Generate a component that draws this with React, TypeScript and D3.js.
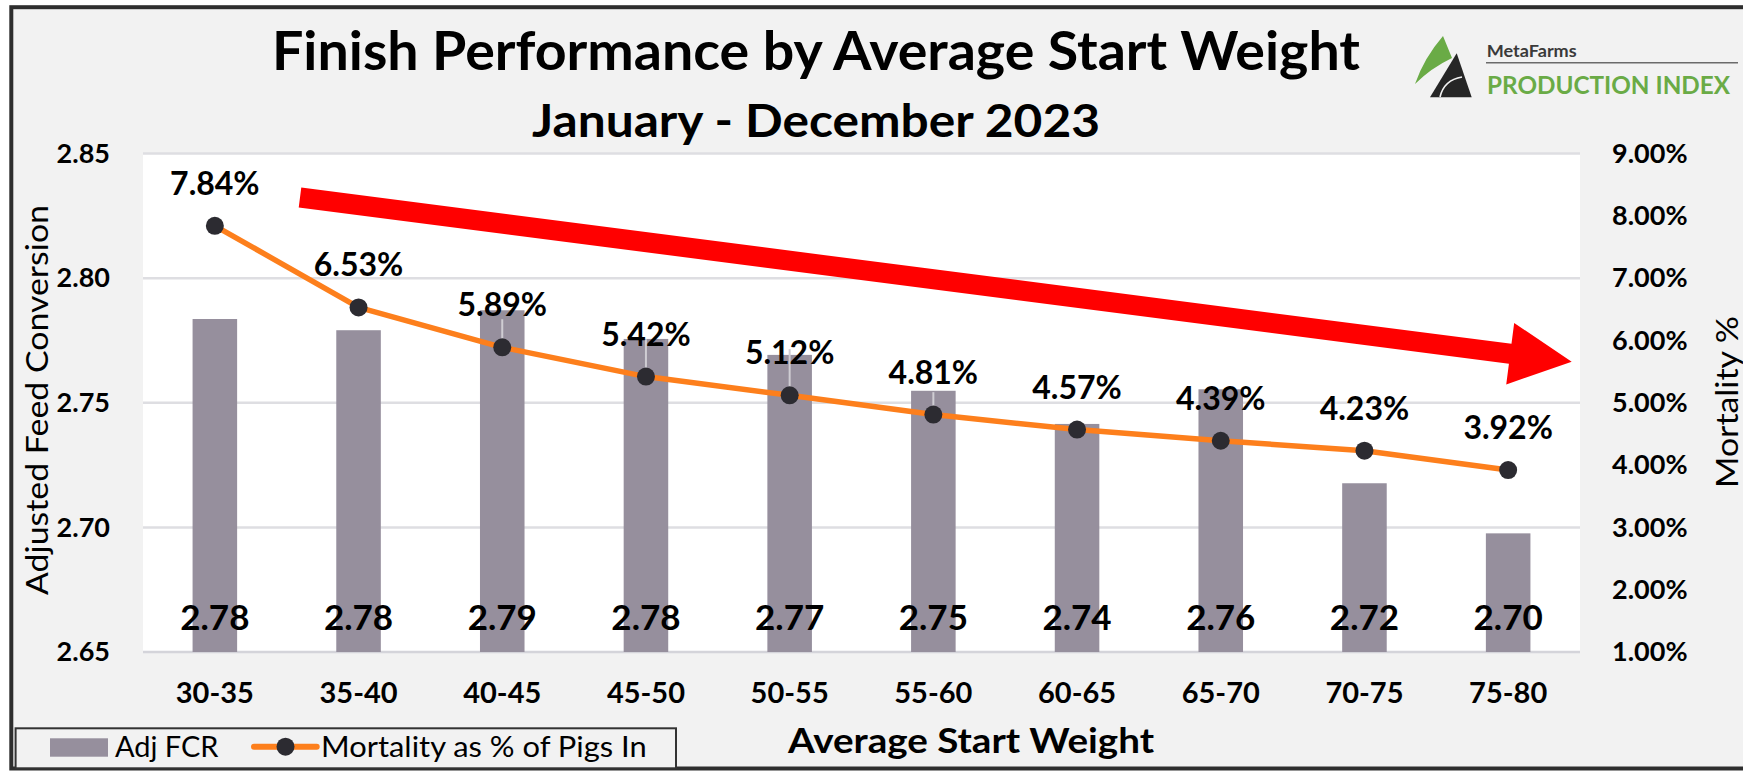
import React, { useEffect, useRef } from 'react';
import * as d3 from 'd3';

// chart data
const weightBins = ['30-35', '35-40', '40-45', '45-50', '50-55', '55-60', '60-65', '65-70', '70-75', '75-80'];
const adjFcr = [2.7836, 2.7791, 2.7871, 2.7756, 2.7692, 2.7548, 2.7415, 2.7554, 2.7177, 2.6976];
const mortalityPct = [7.84, 6.53, 5.89, 5.42, 5.12, 4.81, 4.57, 4.39, 4.23, 3.92];
// thin light whiskers showing above a few points
const mortalityHigh: (number | null)[] = [null, null, 6.34, 6.02, 5.86, 5.17, null, null, null, null];
const fcrTicks = [2.65, 2.7, 2.75, 2.8, 2.85];
const mortalityTicks = [1, 2, 3, 4, 5, 6, 7, 8, 9];

const FONT = "Lato, 'Open Sans', sans-serif";
const BAR_COLOR = '#968f9d';
const LINE_COLOR = '#fd7f1c';
const DOT_COLOR = '#2c2b31';

const App: React.FC = () => {
  const svgRef = useRef<SVGSVGElement>(null);

  useEffect(() => {
    if (!svgRef.current) return;

    const width = 1743;
    const height = 771;
    const plot = { left: 143, right: 1580, top: 153.5, bottom: 652 };

    const svg = d3.select(svgRef.current).attr('width', width).attr('height', height);
    svg.selectAll('*').remove();

    // page + frame
    svg.append('rect').attr('width', width).attr('height', height).attr('fill', '#ffffff');
    svg
      .append('rect')
      .attr('x', 11.3)
      .attr('y', 7.2)
      .attr('width', 1800)
      .attr('height', 761.3)
      .attr('fill', '#f2f2f2')
      .attr('stroke', '#2e2e2e')
      .attr('stroke-width', 4);

    // plot area
    svg
      .append('rect')
      .attr('x', plot.left)
      .attr('y', plot.top)
      .attr('width', plot.right - plot.left)
      .attr('height', plot.bottom - plot.top)
      .attr('fill', '#ffffff');

    const x = d3
      .scaleBand()
      .domain(weightBins)
      .range([plot.left, plot.right])
      .paddingInner(0.69)
      .paddingOuter(0.345);

    const yL = d3.scaleLinear().domain([2.65, 2.85]).range([plot.bottom, plot.top]);
    const yR = d3.scaleLinear().domain([1, 9]).range([plot.bottom, plot.top]);

    // gridlines
    svg
      .selectAll('.grid-line')
      .data(fcrTicks)
      .enter()
      .append('line')
      .attr('class', 'grid-line')
      .attr('x1', plot.left)
      .attr('x2', plot.right)
      .attr('y1', (d) => yL(d))
      .attr('y2', (d) => yL(d))
      .attr('stroke', (d) => (d === 2.65 ? '#d4d4da' : '#dedee2'))
      .attr('stroke-width', 2.5);

    // bars
    const fcrData = weightBins.map((bin, i) => ({ bin, value: adjFcr[i] }));
    svg
      .selectAll('.bar')
      .data(fcrData)
      .enter()
      .append('rect')
      .attr('class', 'bar')
      .attr('x', (d) => x(d.bin) ?? 0)
      .attr('y', (d) => yL(d.value))
      .attr('width', x.bandwidth())
      .attr('height', (d) => plot.bottom - yL(d.value))
      .attr('fill', BAR_COLOR);

    // bar value labels near the base
    svg
      .selectAll('.bar-label')
      .data(fcrData)
      .enter()
      .append('text')
      .attr('class', 'bar-label')
      .attr('x', (d) => (x(d.bin) ?? 0) + x.bandwidth() / 2)
      .attr('y', 630)
      .attr('text-anchor', 'middle')
      .attr('font-family', FONT)
      .attr('font-weight', 700)
      .attr('font-size', 35)
      .attr('fill', '#000')
      .text((d) => d.value.toFixed(2));

    // red trend arrow (annotation)
    const ax0 = 300;
    const ay0 = 197.5;
    const ax1 = 1571.7;
    const ay1 = 361.7;
    const aLen = Math.hypot(ax1 - ax0, ay1 - ay0);
    const aAng = (Math.atan2(ay1 - ay0, ax1 - ax0) * 180) / Math.PI;
    const headLen = 62;
    const headHalf = 31;
    const shaftHalf = 10;
    svg
      .append('path')
      .attr('transform', `translate(${ax0},${ay0}) rotate(${aAng})`)
      .attr(
        'd',
        `M0,${-shaftHalf} L${aLen - headLen},${-shaftHalf} L${aLen - headLen},${-headHalf} L${aLen},0 ` +
          `L${aLen - headLen},${headHalf} L${aLen - headLen},${shaftHalf} L0,${shaftHalf} Z`,
      )
      .attr('fill', '#ff0000');

    // mortality series
    const mortData = weightBins.map((bin, i) => ({
      bin,
      value: mortalityPct[i],
      high: mortalityHigh[i],
      cx: (x(bin) ?? 0) + x.bandwidth() / 2,
    }));

    svg
      .selectAll('.whisker')
      .data(mortData.filter((d) => d.high !== null))
      .enter()
      .append('line')
      .attr('class', 'whisker')
      .attr('x1', (d) => d.cx)
      .attr('x2', (d) => d.cx)
      .attr('y1', (d) => yR(d.high as number))
      .attr('y2', (d) => yR(d.value))
      .attr('stroke', '#cfcdd3')
      .attr('stroke-width', 2);

    const line = d3
      .line<{ cx: number; value: number }>()
      .x((d) => d.cx)
      .y((d) => yR(d.value));

    svg
      .append('path')
      .datum(mortData)
      .attr('d', line)
      .attr('fill', 'none')
      .attr('stroke', LINE_COLOR)
      .attr('stroke-width', 5.5)
      .attr('stroke-linejoin', 'round');

    svg
      .selectAll('.dot')
      .data(mortData)
      .enter()
      .append('circle')
      .attr('class', 'dot')
      .attr('cx', (d) => d.cx)
      .attr('cy', (d) => yR(d.value))
      .attr('r', 9)
      .attr('fill', DOT_COLOR);

    svg
      .selectAll('.mort-label')
      .data(mortData)
      .enter()
      .append('text')
      .attr('class', 'mort-label')
      .attr('x', (d) => d.cx)
      .attr('y', (d) => yR(d.value) - 31)
      .attr('text-anchor', 'middle')
      .attr('font-family', FONT)
      .attr('font-weight', 700)
      .attr('font-size', 32)
      .attr('fill', '#000')
      .text((d) => `${d.value.toFixed(2)}%`);

    // axes
    const leftAxis = svg
      .append('g')
      .attr('transform', `translate(${plot.left},0)`)
      .call(
        d3
          .axisLeft(yL)
          .tickValues(fcrTicks)
          .tickSize(0)
          .tickPadding(33)
          .tickFormat((d) => (d as number).toFixed(2)),
      );
    leftAxis.select('.domain').remove();
    leftAxis
      .selectAll('text')
      .attr('font-family', FONT)
      .attr('font-weight', 700)
      .attr('font-size', 27)
      .attr('fill', '#000');

    const rightAxis = svg
      .append('g')
      .attr('transform', `translate(${plot.right},0)`)
      .call(
        d3
          .axisRight(yR)
          .tickValues(mortalityTicks)
          .tickSize(0)
          .tickPadding(32)
          .tickFormat((d) => `${(d as number).toFixed(2)}%`),
      );
    rightAxis.select('.domain').remove();
    rightAxis
      .selectAll('text')
      .attr('font-family', FONT)
      .attr('font-weight', 700)
      .attr('font-size', 27)
      .attr('fill', '#000');

    const bottomAxis = svg
      .append('g')
      .attr('transform', `translate(0,${plot.bottom})`)
      .call(d3.axisBottom(x).tickSize(0).tickPadding(30));
    bottomAxis.select('.domain').remove();
    bottomAxis
      .selectAll('text')
      .attr('font-family', FONT)
      .attr('font-weight', 700)
      .attr('font-size', 29)
      .attr('fill', '#000');

    // axis titles
    svg
      .append('text')
      .attr('transform', 'translate(48,400) rotate(-90)')
      .attr('text-anchor', 'middle')
      .attr('font-family', FONT)
      .attr('font-size', 31)
      .attr('textLength', 390)
      .attr('lengthAdjust', 'spacingAndGlyphs')
      .attr('fill', '#000')
      .text('Adjusted Feed Conversion');

    svg
      .append('text')
      .attr('transform', 'translate(1738,402) rotate(-90)')
      .attr('text-anchor', 'middle')
      .attr('font-family', FONT)
      .attr('font-size', 30)
      .attr('textLength', 172)
      .attr('lengthAdjust', 'spacingAndGlyphs')
      .attr('fill', '#000')
      .text('Mortality %');

    svg
      .append('text')
      .attr('x', 971)
      .attr('y', 753)
      .attr('text-anchor', 'middle')
      .attr('font-family', FONT)
      .attr('font-weight', 700)
      .attr('font-size', 35)
      .attr('textLength', 366)
      .attr('lengthAdjust', 'spacingAndGlyphs')
      .attr('fill', '#000')
      .text('Average Start Weight');

    // titles
    svg
      .append('text')
      .attr('x', 816)
      .attr('y', 70)
      .attr('text-anchor', 'middle')
      .attr('font-family', FONT)
      .attr('font-weight', 700)
      .attr('font-size', 53)
      .attr('textLength', 1088)
      .attr('lengthAdjust', 'spacingAndGlyphs')
      .attr('fill', '#000')
      .text('Finish Performance by Average Start Weight');

    svg
      .append('text')
      .attr('x', 816)
      .attr('y', 136.7)
      .attr('text-anchor', 'middle')
      .attr('font-family', FONT)
      .attr('font-weight', 700)
      .attr('font-size', 46)
      .attr('textLength', 568)
      .attr('lengthAdjust', 'spacingAndGlyphs')
      .attr('fill', '#000')
      .text('January - December 2023');

    // legend
    const legend = svg.append('g');
    legend
      .append('rect')
      .attr('x', 15.6)
      .attr('y', 728.3)
      .attr('width', 660.4)
      .attr('height', 40)
      .attr('fill', '#f2f2f2')
      .attr('stroke', '#333')
      .attr('stroke-width', 2);
    legend
      .append('rect')
      .attr('x', 50)
      .attr('y', 738.3)
      .attr('width', 58)
      .attr('height', 18.4)
      .attr('fill', BAR_COLOR);
    legend
      .append('text')
      .attr('x', 115)
      .attr('y', 756.7)
      .attr('font-family', FONT)
      .attr('font-size', 28)
      .attr('textLength', 103.5)
      .attr('lengthAdjust', 'spacingAndGlyphs')
      .attr('fill', '#000')
      .text('Adj FCR');
    legend
      .append('line')
      .attr('x1', 254)
      .attr('x2', 316.7)
      .attr('y1', 746.7)
      .attr('y2', 746.7)
      .attr('stroke', LINE_COLOR)
      .attr('stroke-width', 6)
      .attr('stroke-linecap', 'round');
    legend.append('circle').attr('cx', 285.5).attr('cy', 746.7).attr('r', 9).attr('fill', DOT_COLOR);
    legend
      .append('text')
      .attr('x', 321)
      .attr('y', 756.7)
      .attr('font-family', FONT)
      .attr('font-size', 28)
      .attr('textLength', 325.7)
      .attr('lengthAdjust', 'spacingAndGlyphs')
      .attr('fill', '#000')
      .text('Mortality as % of Pigs In');

    // logo
    const logo = svg.append('g');
    logo
      .append('path')
      .attr('d', 'M1443,36 L1452,58 Q1431,68 1415,84 Q1424,58 1443,36 Z')
      .attr('fill', '#6aab46');
    logo
      .append('path')
      .attr('d', 'M1456.7,53.3 L1471.7,97.3 L1430,97.3 Z')
      .attr('fill', '#262626');
    logo
      .append('path')
      .attr('d', 'M1440,97 Q1444,80 1462,77')
      .attr('fill', 'none')
      .attr('stroke', '#f2f2f2')
      .attr('stroke-width', 1.6);
    logo
      .append('text')
      .attr('x', 1486.7)
      .attr('y', 57.3)
      .attr('font-family', FONT)
      .attr('font-weight', 700)
      .attr('font-size', 17)
      .attr('textLength', 90)
      .attr('lengthAdjust', 'spacingAndGlyphs')
      .attr('fill', '#3a3a3a')
      .text('MetaFarms');
    logo
      .append('line')
      .attr('x1', 1486)
      .attr('x2', 1738)
      .attr('y1', 62.7)
      .attr('y2', 62.7)
      .attr('stroke', '#6b6b6b')
      .attr('stroke-width', 1.5);
    logo
      .append('text')
      .attr('x', 1487)
      .attr('y', 94)
      .attr('font-family', FONT)
      .attr('font-weight', 700)
      .attr('font-size', 25)
      .attr('textLength', 243)
      .attr('lengthAdjust', 'spacingAndGlyphs')
      .attr('fill', '#6aab46')
      .text('PRODUCTION INDEX');
  }, []);

  return <svg ref={svgRef} style={{ position: 'absolute', left: 0, top: 0, display: 'block' }}></svg>;
};

export default App;
